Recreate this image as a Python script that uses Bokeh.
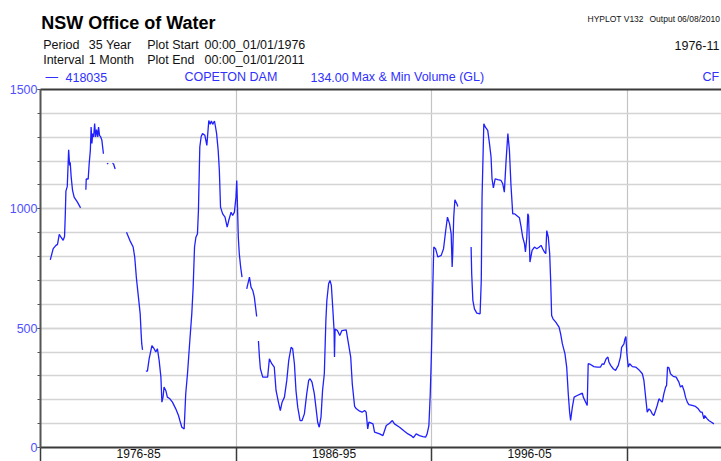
from bokeh.plotting import figure
from bokeh.models import Range1d, FixedTicker, LinearAxis
from bokeh.layouts import column
from bokeh.core.properties import value
from bokeh.embed import file_html
from bokeh.resources import INLINE

NaN = float("nan")

# Copeton Dam (418035) monthly max & min volume (GL); NaN = gap in record
year = [
    1976.48, 1976.63, 1976.77, 1976.85, 1976.94, 1977.02, 1977.14, 1977.21, 1977.25, 1977.28,
    1977.35, 1977.42, 1977.47, 1977.50, 1977.55, 1977.62, 1977.70, 1977.87, 1978.03, NaN,
    1978.30, 1978.32, 1978.42, 1978.47, 1978.53, 1978.57, 1978.61, 1978.65, 1978.70, 1978.75,
    1978.80, 1978.85, 1978.91, 1978.95, 1979.00, 1979.06, 1979.12, 1979.20, NaN,
    1979.38, 1979.45, NaN,
    1979.66, 1979.72, 1979.80, NaN,
    1980.38, 1980.55, 1980.72, 1980.80, 1980.89, 1980.99, 1981.08, 1981.13, 1981.16, 1981.20, NaN,
    1981.37, 1981.45, 1981.54, 1981.68, 1981.79, 1981.88, 1981.96, 1982.05, 1982.14, 1982.19,
    1982.25, 1982.30, 1982.39, 1982.47, 1982.60, 1982.73, 1982.90, 1983.04, 1983.11, 1983.21,
    1983.33, 1983.41, 1983.50, 1983.62, 1983.72, 1983.79, 1983.86, 1983.93, 1984.01, 1984.06,
    1984.13, 1984.20, 1984.27, 1984.39, 1984.49, 1984.59, 1984.66, 1984.72, 1984.79, 1984.88,
    1984.93, 1984.99, 1985.07, 1985.13, 1985.19, 1985.30, 1985.42, 1985.53, 1985.61, 1985.73,
    1985.81, 1985.90, 1985.98, 1986.02, 1986.05, 1986.10, 1986.15, 1986.22, 1986.29, NaN,
    1986.53, 1986.67, 1986.75, 1986.84, 1986.92, 1987.04, NaN,
    1987.13, 1987.18, 1987.23, 1987.35, 1987.60, 1987.69, 1987.81, 1987.94, 1988.03, 1988.17,
    1988.25, 1988.34, 1988.46, 1988.58, 1988.68, 1988.80, 1988.88, 1988.97, 1989.05, 1989.14,
    1989.26, 1989.36, 1989.48, 1989.60, 1989.70, 1989.77, 1989.87, 1989.99, 1990.07, 1990.16,
    1990.24, 1990.33, 1990.41, 1990.50, 1990.58, 1990.63, 1990.72, 1990.79, 1990.86, 1990.93,
    1991.00, 1991.02, 1991.05, 1991.17, 1991.29, 1991.40, 1991.62, 1991.71, 1991.85, 1991.93,
    1992.05, 1992.14, 1992.31, 1992.43, 1992.56, 1992.64, 1992.72, 1992.78, 1992.90, 1992.99,
    1993.07, 1993.33, 1993.50, 1993.67, 1993.84, 1993.98, 1994.09, 1994.35, 1994.60, 1994.78,
    1994.94, 1995.06, 1995.20, 1995.37, 1995.54, 1995.68, 1995.76, 1995.85, 1995.92, 1995.98,
    1996.05, 1996.10, 1996.19, 1996.31, 1996.48, 1996.60, 1996.70, 1996.80, 1996.91, 1996.99,
    1997.04, 1997.07, 1997.12, 1997.18, 1997.28, 1997.33, NaN,
    1998.01, 1998.04, 1998.10, 1998.18, 1998.30, 1998.47, 1998.53, 1998.57, 1998.66, 1998.74,
    1998.86, 1998.95, 1999.03, 1999.08, 1999.15, 1999.24, 1999.37, 1999.54, 1999.63, 1999.71,
    1999.80, 1999.89, 1999.97, 2000.05, 2000.14, 2000.23, 2000.34, 2000.48, 2000.57, 2000.65,
    2000.74, 2000.79, 2000.86, 2000.91, 2000.95, 2001.02, 2001.13, 2001.25, 2001.37, 2001.50,
    2001.59, 2001.67, 2001.76, 2001.83, 2001.88, 2001.96, 2002.03, 2002.08, 2002.13, 2002.20,
    2002.34, 2002.51, 2002.59, 2002.68, 2002.81, 2002.90, 2002.98, 2003.05, 2003.10, 2003.19,
    2003.28, 2003.44, 2003.62, 2003.70, 2003.75, 2003.87, 2003.95, 2004.00, 2004.12, 2004.29,
    2004.46, 2004.63, 2004.72, 2004.80, 2004.92, 2005.01, 2005.06, 2005.15, 2005.28, 2005.40,
    2005.54, 2005.65, 2005.71, 2005.83, 2005.88, 2005.93, 2005.98, 2006.05, 2006.12, 2006.26,
    2006.43, 2006.59, 2006.77, 2006.85, 2006.93, 2007.02, 2007.11, 2007.19, 2007.28, 2007.36,
    2007.45, 2007.53, 2007.62, 2007.70, 2007.79, 2007.87, 2007.96, 2008.01, 2008.06, 2008.13,
    2008.21, 2008.35, 2008.50, 2008.64, 2008.72, 2008.81, 2008.90, 2008.98, 2009.07, 2009.15,
    2009.32, 2009.49, 2009.63, 2009.75, 2009.83, 2009.92, 2009.96, 2010.09, 2010.17, 2010.31,
    2010.43,
]
volume_gl = [
    786, 833, 847, 851, 893, 882, 868, 884, 979, 1074,
    1094, 1247, 1182, 1195, 1133, 1077, 1049, 1028, 1004, NaN,
    1080, 1125, 1125, 1189, 1245, 1343, 1274, 1315, 1301, 1357,
    1301, 1332, 1301, 1343, 1308, 1301, 1287, 1231, NaN,
    1188, 1191, NaN,
    1191, 1188, 1167, NaN,
    902, 868, 840, 798, 707, 630, 560, 476, 434, 409, NaN,
    320, 320, 372, 427, 414, 400, 414, 365, 295, 190,
    211, 253, 239, 211, 204, 190, 162, 134, 113, 85,
    78, 225, 309, 448, 560, 672, 840, 881, 895, 993,
    1259, 1303, 1315, 1308, 1266, 1370, 1354, 1368, 1354, 1368,
    1345, 1315, 1245, 1161, 1007, 979, 965, 923, 951, 986,
    972, 986, 1049, 1119, 1035, 881, 812, 756, 714, NaN,
    665, 714, 672, 658, 630, 549, NaN,
    446, 379, 330, 295, 295, 372, 351, 337, 239, 183,
    155, 190, 211, 281, 365, 420, 414, 351, 239, 169,
    113, 113, 141, 225, 281, 288, 274, 225, 169, 106,
    85, 127, 239, 309, 532, 616, 686, 700, 679, 588,
    490, 379, 496, 490, 469, 490, 493, 448, 379, 267,
    172, 162, 152, 148, 155, 148, 78, 106, 102, 99,
    64, 57, 50, 92, 102, 113, 99, 85, 68, 57,
    50, 41, 57, 50, 46, 43, 57, 92, 225, 393,
    672, 840, 833, 798, 805, 833, 902, 965, 937, 895,
    756, 812, 965, 1038, 1021, 1010, NaN,
    840, 728, 616, 581, 563, 560, 700, 1049, 1356, 1342,
    1329, 1273, 1217, 1126, 1088, 1126, 1122, 1119, 1105, 1070,
    1203, 1315, 1245, 1098, 979, 979, 972, 963, 923, 881,
    854, 819, 881, 979, 970, 777, 826, 840, 833, 840,
    847, 833, 819, 812, 909, 881, 812, 700, 553, 539,
    525, 504, 476, 434, 393, 337, 225, 148, 113, 169,
    211, 218, 225, 228, 211, 190, 176, 351, 348, 339,
    337, 337, 351, 348, 372, 379, 358, 344, 330, 323,
    344, 379, 420, 434, 455, 465, 393, 337, 351, 339,
    337, 326, 309, 281, 218, 148, 162, 155, 141, 134,
    155, 176, 204, 197, 190, 225, 253, 260, 337, 334,
    309, 298, 295, 274, 253, 260, 239, 211, 190, 180,
    176, 172, 162, 148, 148, 120, 134, 120, 113, 106,
    99,
]

y_major_ticks = [0, 500, 1000, 1500]
y_minor_ticks = [0, 100, 200, 300, 400, 500, 600, 700, 800, 900, 1000, 1100, 1200, 1300, 1400, 1500]
x_ticks = [1976, 1986, 1996, 2006]
x_tick_labels = ["1976-85", "1986-95", "1996-05"]
x_label_centers = [1981, 1991, 2001]

# header texts
black_texts = ["Period", "35 Year", "Plot Start", "00:00_01/01/1976", "1976-11",
               "Interval", "1 Month", "Plot End", "00:00_01/01/2011"]
blue_texts = ["\u2014", "418035", "COPETON DAM", "134.00", "Max & Min Volume (GL)", "CF"]
small_texts = ["HYPLOT V132", "Output 06/08/2010"]
title_text = "NSW Office of Water"

FONT = "Liberation Sans"
BLUE = "#2f2fff"
W = 721
LEFT = 40
HEAD_H = 84
MAIN_H = 461 - HEAD_H


def mid(baseline, px):
    # convert an alphabetic baseline (page px) to a 'middle' anchor for a font size
    return baseline - 0.3465 * px


# ---------------- header strip (page-pixel coordinates) ----------------
hd = figure(width=W, height=HEAD_H, output_backend="svg", toolbar_location=None,
            x_range=Range1d(LEFT, W), y_range=Range1d(HEAD_H, 0),
            x_axis_type=None, y_axis_type=None,
            min_border_left=LEFT, min_border_right=0, min_border_top=0, min_border_bottom=0)
hd.outline_line_color = None
hd.grid.visible = False

hd.text(x=[40.7], y=[mid(28.3, 18)], text=[title_text], text_font=value(FONT),
        text_font_size=value("18px"), text_font_style="bold", text_color="#000000",
        text_baseline="middle", text_align="left")
hd.text(x=[587, 649], y=[mid(21.7, 8.5)] * 2, text=small_texts, text_font=value(FONT),
        text_font_size=value("8.5px"), text_color="#111111",
        text_baseline="middle", text_align="left")
hd.text(x=[42.7, 88.3, 146.7, 204, 674, 42.7, 88.3, 146.7, 204],
        y=[mid(49.3, 12.5)] * 5 + [mid(64.3, 12.5)] * 4,
        text=black_texts, text_font=value(FONT), text_font_size=value("12.5px"),
        text_color="#111111", text_baseline="middle", text_align="left")
hd.text(x=[45, 65, 184, 310, 351, 702], y=[mid(81, 12.5)] * 6,
        text=blue_texts, text_font=value(FONT), text_font_size=value("12.5px"),
        text_color=BLUE, text_baseline="middle", text_align="left")

# ---------------- main chart ----------------
p = figure(width=W, height=MAIN_H, output_backend="svg", toolbar_location=None,
           x_range=Range1d(1975.98, 2010.82), y_range=Range1d(0, 1500),
           min_border_left=LEFT, min_border_right=0, min_border_top=89 - HEAD_H,
           min_border_bottom=14)
p.outline_line_color = None

# x axis: period labels centred in each decade, long ticks at decade boundaries
p.xaxis.ticker = FixedTicker(ticks=x_label_centers, minor_ticks=x_ticks)
p.xaxis.major_label_overrides = dict(zip(x_label_centers, x_tick_labels))
p.xaxis.major_label_standoff = -13
p.xaxis.major_label_text_font = FONT
p.xaxis.major_label_text_font_size = "12px"
p.xaxis.major_label_text_color = "#111111"
p.xaxis.major_tick_out = 0
p.xaxis.major_tick_in = 0
p.xaxis.major_tick_line_color = None
p.xaxis.minor_tick_out = 14
p.xaxis.minor_tick_in = 0
p.xaxis.axis_line_color = "#3a3a3a"
p.xaxis.axis_line_width = 2
p.xaxis.minor_tick_line_color = "#3a3a3a"
p.xaxis.minor_tick_line_width = 1.5

p.yaxis.ticker = FixedTicker(ticks=y_major_ticks, minor_ticks=y_minor_ticks)
p.yaxis.major_tick_out = 3
p.yaxis.major_tick_in = 0
p.yaxis.minor_tick_out = 3
p.yaxis.minor_tick_in = 0
p.yaxis.major_label_standoff = 0
p.yaxis.major_label_text_font = FONT
p.yaxis.major_label_text_font_size = "12.5px"
p.yaxis.major_label_text_color = "#5050ff"
p.yaxis.axis_line_color = "#555555"
p.yaxis.axis_line_width = 2
p.yaxis.major_tick_line_color = "#555555"
p.yaxis.minor_tick_line_color = "#555555"

top = LinearAxis(ticker=FixedTicker(ticks=[]), major_label_standoff=0,
                 major_tick_out=0, major_tick_in=0, minor_tick_out=0, minor_tick_in=0,
                 axis_line_color="#3a3a3a", axis_line_width=2)
p.add_layout(top, "above")

p.xgrid.grid_line_color = None
p.xgrid.minor_grid_line_color = "#c4c4c4"
p.xgrid.minor_grid_line_width = 1.2
p.ygrid.grid_line_color = "#d4d4d4"
p.ygrid.grid_line_width = 1.6
p.ygrid.minor_grid_line_color = "#d4d4d4"
p.ygrid.minor_grid_line_width = 1.6

p.line(year, volume_gl, line_color="#2020ff", line_width=1.3)

layout = column(hd, p, spacing=0)
open("out.html", "w").write(file_html(layout, INLINE))
